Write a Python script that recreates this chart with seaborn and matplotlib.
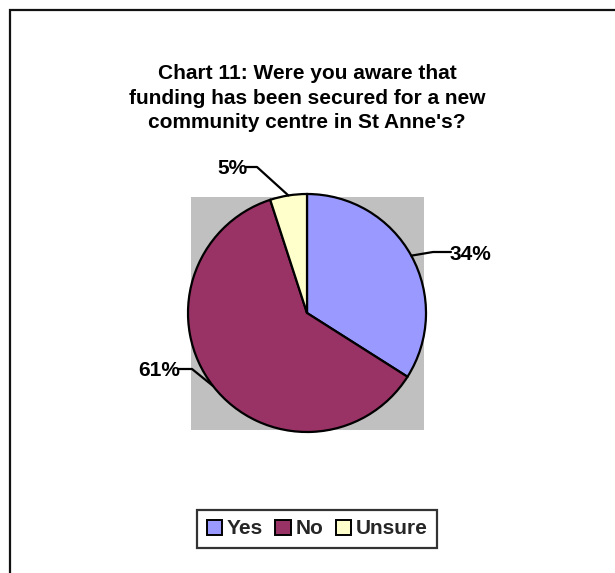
import matplotlib
matplotlib.use("Agg")
import matplotlib.pyplot as plt
import seaborn as sns
import numpy as np
from matplotlib.patches import Rectangle, Patch
from matplotlib.lines import Line2D

# Survey answers (percent of respondents)
categories = ["Yes", "No", "Unsure"]
shares = [34, 61, 5]
colors = ["#9999FF", "#993366", "#FFFFCC"]
title = ("Chart 11: Were you aware that\n"
         "funding has been secured for a new\n"
         "community centre in St Anne's?")

sns.set_theme(style="white")
plt.rcParams["font.family"] = ["Liberation Sans", "DejaVu Sans"]

W, H = 615, 573
fig = plt.figure(figsize=(W / 100, H / 100), dpi=100)
fig.patch.set_facecolor("white")

# outer chart frame (runs off the right and bottom edges)
fig.add_artist(Rectangle((10 / W, -0.1), 1.2, 1.1 - 10 / H,
                         transform=fig.transFigure, fill=False,
                         edgecolor="#111111", lw=1.6))

fig.text(307 / W, 1 - 98 / H, title, ha="center", va="center",
         fontsize=15, fontweight="bold", color="black", linespacing=1.38)

# pie axes: one data unit == pie radius (119 px)
R = 119.0
cx, cy = 307, H - 313
half = 200
ax = fig.add_axes([(cx - half) / W, (cy - half) / H, 2 * half / W, 2 * half / H])

wedges, _ = ax.pie(shares, colors=colors, startangle=90, counterclock=False,
                   radius=1.0, wedgeprops=dict(edgecolor="black", linewidth=1.6),
                   frame=False)
for w in wedges:
    w.set_zorder(2)

ax.set_xlim(-half / R, half / R)
ax.set_ylim(-half / R, half / R)
ax.set_aspect("equal")
ax.axis("off")

# grey plot area behind the pie
s = 116.5 / R
ax.add_patch(Rectangle((-s, -s), 2 * s, 2 * s, facecolor="#C0C0C0",
                       edgecolor="none", zorder=0))

# label elbows / text anchors, in pixels relative to the pie centre
label_layout = [
    dict(elbow=(126, 61), text=(142, 61), ha="left"),
    dict(elbow=(-115, -56), text=(-127, -56), ha="right"),
    dict(elbow=(-50, 146), text=(-59, 146), ha="right"),
]
for w, val, lay in zip(wedges, shares, label_layout):
    mid = np.deg2rad((w.theta1 + w.theta2) / 2)
    ex, ey = np.cos(mid), np.sin(mid)
    bx, by = lay["elbow"][0] / R, lay["elbow"][1] / R
    tx, ty = lay["text"][0] / R, lay["text"][1] / R
    edge_x = tx + (2 / R if lay["ha"] == "left" else -2 / R)
    ax.add_line(Line2D([ex, bx, edge_x], [ey, by, ty], color="black",
                       lw=1.6, zorder=3, clip_on=False))
    ax.text(tx, ty, f"{val}%", ha=lay["ha"], va="center_baseline",
            fontsize=15, fontweight="bold", color="black", zorder=4)

handles = [Patch(facecolor=c, edgecolor="black", linewidth=1.4) for c in colors]
leg = fig.legend(handles, categories, loc="center", ncol=3,
                 bbox_to_anchor=(317 / W, 1 - 529 / H),
                 prop=dict(family=["Liberation Sans", "DejaVu Sans"],
                           weight="bold", size=15),
                 frameon=True, fancybox=False, handlelength=0.75,
                 handleheight=0.75, handletextpad=0.2, columnspacing=0.6,
                 borderpad=0.45, borderaxespad=0)
leg.get_frame().set_edgecolor("black")
leg.get_frame().set_linewidth(1.6)

fig.savefig("out.png", dpi=100, facecolor="white")
